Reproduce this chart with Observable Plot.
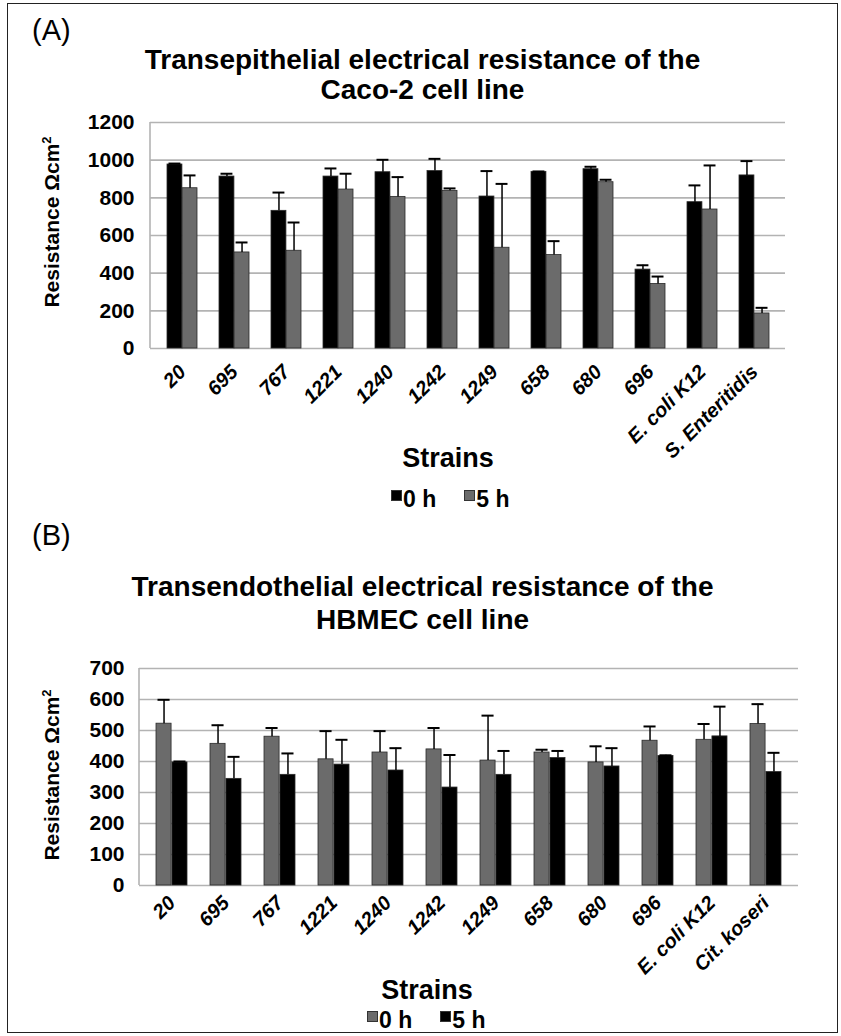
<!DOCTYPE html>
<html>
<head>
<meta charset="utf-8">
<script src="https://cdn.jsdelivr.net/npm/d3@7"></script>
<script src="https://cdn.jsdelivr.net/npm/@observablehq/plot@0.6"></script>
<style>
  body { margin: 0; background: #fff; }
  #fig { position: relative; width: 841px; height: 1036px; overflow: hidden;
         font-family: "Liberation Sans", Arial, Helvetica, sans-serif; color: #000; background: #fff; }
  #border { position: absolute; left: 7px; top: 3px; width: 831px; height: 1030px;
            border: 1.5px solid #222; box-sizing: border-box; }
  .chart { position: absolute; left: 0; }
  .t { position: absolute; white-space: nowrap; }
  .panel { font-size: 29px; line-height: 29px; left: 32px; }
  .title { left: 0; width: 845px; text-align: center; font-weight: bold; font-size: 28px; }
  .ylab { font-weight: bold; font-size: 21px; line-height: 21px; transform: translate(-50%, -50%) rotate(-90deg); }
  .ylab sup { font-size: 13px; vertical-align: 8px; line-height: 0; }
  .xlab { font-weight: bold; font-size: 27px; line-height: 27px; transform: translateX(-50%); }
  .leg { font-weight: bold; font-size: 23px; line-height: 23px; display: flex; align-items: flex-start; }
  .leg .sw { width: 11px; height: 11px; box-sizing: border-box; border: 1px solid #333; margin-top: 2px; }
  .leg .item { display: flex; align-items: flex-start; }
</style>
</head>
<body>
<div id="fig">
  <div id="border"></div>
  <div id="chartA" class="chart" style="top:110px"></div>
  <div id="chartB" class="chart" style="top:655px"></div>

  <div class="t panel" style="top:16px">(A)</div>
  <div class="t title" style="top:45px; line-height:30px">Transepithelial electrical resistance of the<br>Caco-2 cell line</div>
  <div class="t ylab" style="left:51px; top:222px">Resistance Ωcm<sup>2</sup></div>
  <div class="t xlab" style="left:448px; top:445px">Strains</div>
  <div class="t leg" id="legA" style="left:391px; top:488px"></div>

  <div class="t panel" style="top:521px">(B)</div>
  <div class="t title" style="top:570px; line-height:33px">Transendothelial electrical resistance of the<br>HBMEC cell line</div>
  <div class="t ylab" style="left:51px; top:775px">Resistance Ωcm<sup>2</sup></div>
  <div class="t xlab" style="left:427px; top:977px">Strains</div>
  <div class="t leg" id="legB" style="left:367px; top:1009px"></div>
</div>

<script>
// ---------- data ----------
const seriesNames = ["0 h", "5 h"];

// Panel A: Caco-2 (TEER)
const strainsA = ["20", "695", "767", "1221", "1240", "1242", "1249", "658", "680", "696", "E. coli K12", "S. Enteritidis"];
const caco0h   = [977, 913, 731, 913, 936, 942, 807, 938, 952, 419, 777, 919];
const caco0hSD = [5, 15, 97, 43, 66, 65, 135, 2, 13, 23, 89, 76];
const caco5h   = [851, 510, 519, 844, 805, 837, 535, 496, 883, 343, 738, 186];
const caco5hSD = [68, 53, 150, 84, 105, 13, 339, 74, 13, 39, 234, 30];
const ticksA   = [0, 200, 400, 600, 800, 1000, 1200];
const coloursA = ["#000000", "#6b6b6b"];

// Panel B: HBMEC (TEER)
const strainsB  = ["20", "695", "767", "1221", "1240", "1242", "1249", "658", "680", "696", "E. coli K12", "Cit. koseri"];
const hbmec0h   = [522, 457, 480, 407, 429, 439, 403, 429, 397, 467, 470, 521];
const hbmec0hSD = [77, 60, 28, 91, 69, 69, 145, 9, 52, 46, 51, 64];
const hbmec5h   = [397, 344, 357, 390, 371, 316, 357, 411, 384, 418, 481, 366];
const hbmec5hSD = [3, 71, 69, 80, 72, 105, 77, 23, 59, 2, 96, 62];
const ticksB    = [0, 100, 200, 300, 400, 500, 600, 700];
const coloursB  = ["#6b6b6b", "#000000"];

// ---------- chart builder ----------
function chart(o) {
  const rows = o.strains.flatMap((s, i) => [
    {strain: s, series: seriesNames[0], value: o.v0[i], sd: o.e0[i]},
    {strain: s, series: seriesNames[1], value: o.v5[i], sd: o.e5[i]}
  ]);
  const left = rows.filter(d => d.series === seriesNames[0]);
  const right = rows.filter(d => d.series === seriesNames[1]);
  const step = (o.width - o.ml - o.mr) / o.strains.length;
  const half = step * (1 - o.pad) / 2;
  const cap = 1.5;
  const grid = "#b3b3b3";
  const svg = Plot.plot({
    width: o.width, height: o.height,
    marginLeft: o.ml, marginRight: o.mr, marginTop: o.mt, marginBottom: o.mb,
    style: {fontFamily: '"Liberation Sans", Arial, Helvetica, sans-serif', fontWeight: "bold", background: "transparent", overflow: "visible", color: "#000"},
    x: {domain: o.strains, paddingInner: o.pad, paddingOuter: o.pad / 2},
    y: {domain: [0, o.ticks[o.ticks.length - 1]]},
    color: {domain: seriesNames, range: o.colours},
    marks: [
      Plot.gridY(o.ticks, {stroke: grid, strokeOpacity: 1, strokeWidth: 1.6}),
      Plot.barY(left, {x: "strain", y: "value", fill: "series", stroke: "#2a2a2a", strokeWidth: 0.8, insetRight: half}),
      Plot.barY(right, {x: "strain", y: "value", fill: "series", stroke: "#2a2a2a", strokeWidth: 0.8, insetLeft: half}),
      Plot.ruleX(left, {x: "strain", y1: "value", y2: d => d.value + d.sd, dx: -half / 2, stroke: "#000", strokeWidth: 1.5}),
      Plot.ruleX(right, {x: "strain", y1: "value", y2: d => d.value + d.sd, dx: half / 2, stroke: "#000", strokeWidth: 1.5}),
      Plot.tickY(left, {x: "strain", y: d => d.value + d.sd, insetLeft: cap, insetRight: half + cap, stroke: "#000", strokeWidth: 2}),
      Plot.tickY(right, {x: "strain", y: d => d.value + d.sd, insetLeft: half + cap, insetRight: cap, stroke: "#000", strokeWidth: 2}),
      Plot.axisY({ticks: o.ticks, tickFormat: d => String(d), tickSize: 0, tickPadding: o.yPad, fontSize: 21, label: null, fill: "#000"}),
      Plot.axisX({tickRotate: -45, tickSize: 0, tickPadding: o.xPad, fontSize: 20, fontStyle: "italic", label: null, fill: "#000"})
    ]
  });
  // left axis line
  d3.select(svg).append("line")
    .attr("x1", o.ml).attr("x2", o.ml)
    .attr("y1", o.mt).attr("y2", o.height - o.mb)
    .attr("stroke", grid).attr("stroke-width", 1.6);
  return svg;
}

document.getElementById("chartA").append(chart({
  strains: strainsA, v0: caco0h, e0: caco0hSD, v5: caco5h, e5: caco5hSD,
  ticks: ticksA, colours: coloursA,
  width: 841, height: 340, ml: 150, mr: 56, mt: 12, mb: 102, pad: 0.43, yPad: 16, xPad: 20
}));
document.getElementById("chartB").append(chart({
  strains: strainsB, v0: hbmec0h, e0: hbmec0hSD, v5: hbmec5h, e5: hbmec5hSD,
  ticks: ticksB, colours: coloursB,
  width: 841, height: 320, ml: 139, mr: 43, mt: 13, mb: 90, pad: 0.42, yPad: 15, xPad: 14
}));

function legend(el, colours) {
  seriesNames.forEach((name, i) => {
    const item = document.createElement("div");
    item.className = "item";
    item.style.marginRight = i === 0 ? "28px" : "0";
    const sw = document.createElement("div");
    sw.className = "sw";
    sw.style.background = colours[i];
    const tx = document.createElement("span");
    tx.textContent = name;
    tx.style.marginLeft = "1px";
    item.append(sw, tx);
    el.append(item);
  });
}
legend(document.getElementById("legA"), coloursA);
legend(document.getElementById("legB"), coloursB);
</script>
</body>
</html>
